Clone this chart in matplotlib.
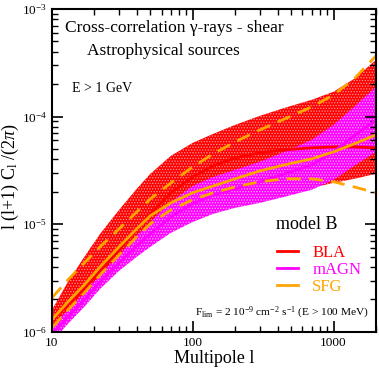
import matplotlib
matplotlib.use('Agg')
import matplotlib.pyplot as plt
from matplotlib.lines import Line2D
from matplotlib.ticker import FixedLocator, FixedFormatter, LogLocator, NullFormatter

plt.rcParams['font.family'] = ['Liberation Serif', 'DejaVu Serif']
plt.rcParams['mathtext.fontset'] = 'custom'
plt.rcParams['mathtext.rm'] = 'Liberation Serif'
plt.rcParams['mathtext.it'] = 'Liberation Serif:italic'
plt.rcParams['hatch.linewidth'] = 0.6

# multipoles
ell = [10, 13, 17, 22, 30, 40, 50, 70, 100, 140, 200, 300, 450, 700, 1000, 1400, 2000]

# BLA band (model B)
bla_hi = [1.60e-6, 2.92e-6, 4.98e-6, 8.15e-6, 1.36e-5, 2.13e-5, 2.94e-5, 4.32e-5, 5.70e-5,
          6.91e-5, 8.37e-5, 1.015e-4, 1.205e-4, 1.43e-4, 1.70e-4, 2.24e-4, 3.36e-4]
bla_lo = [9.01e-7, 1.27e-6, 1.79e-6, 2.57e-6, 3.86e-6, 5.31e-6, 6.58e-6, 8.68e-6, 1.10e-5,
          1.30e-5, 1.48e-5, 1.69e-5, 1.92e-5, 2.18e-5, 2.42e-5, 2.64e-5, 2.94e-5]
bla_mid = [1.30e-6, 1.79e-6, 2.51e-6, 3.69e-6, 5.78e-6, 9.06e-6, 1.25e-5, 1.96e-5, 2.75e-5,
           3.49e-5, 4.13e-5, 4.60e-5, 4.91e-5, 5.12e-5, 5.23e-5, 5.23e-5, 5.12e-5]

# mAGN band
magn_hi = [1.12e-6, 1.60e-6, 2.31e-6, 3.39e-6, 5.20e-6, 7.80e-6, 1.05e-5, 1.61e-5, 2.27e-5,
           2.75e-5, 3.20e-5, 3.80e-5, 4.70e-5, 6.08e-5, 8.37e-5, 1.23e-4, 1.89e-4]
magn_lo = [8.09e-7, 1.19e-6, 1.71e-6, 2.51e-6, 3.69e-6, 4.98e-6, 6.17e-6, 8.32e-6, 1.05e-5,
           1.25e-5, 1.42e-5, 1.58e-5, 1.80e-5, 2.09e-5, 2.58e-5, 3.49e-5, 4.70e-5]
magn_mid = [9.60e-7, 1.38e-6, 1.99e-6, 2.92e-6, 4.38e-6, 6.30e-6, 8.15e-6, 1.17e-5, 1.55e-5,
            1.87e-5, 2.13e-5, 2.48e-5, 2.94e-5, 3.56e-5, 4.70e-5, 6.62e-5, 9.32e-5]

# SFG curves
sfg_mid = [1.30e-6, 1.90e-6, 2.74e-6, 4.02e-6, 6.17e-6, 9.06e-6, 1.20e-5, 1.58e-5, 1.96e-5,
           2.27e-5, 2.64e-5, 3.13e-5, 3.56e-5, 4.05e-5, 4.70e-5, 5.58e-5, 6.76e-5]
sfg_hi = [2.07e-6, 3.05e-6, 4.38e-6, 6.17e-6, 9.06e-6, 1.30e-5, 1.72e-5, 2.42e-5, 3.41e-5,
          4.51e-5, 5.82e-5, 7.52e-5, 9.52e-5, 1.23e-4, 1.59e-4, 2.24e-4, 3.66e-4]
sfg_lo = [1.09e-6, 1.60e-6, 2.31e-6, 3.39e-6, 5.20e-6, 7.64e-6, 1.01e-5, 1.36e-5, 1.69e-5,
          1.96e-5, 2.22e-5, 2.48e-5, 2.64e-5, 2.64e-5, 2.48e-5, 2.22e-5, 1.96e-5]

RED = '#ff0000'
MAG = '#ff00ff'
ORA = '#ffa500'

fig = plt.figure(figsize=(3.79, 3.70), dpi=100)
ax = fig.add_axes([0.137, 0.103, 0.855, 0.873])

ax.fill_between(ell, bla_lo, bla_hi, facecolor=RED, edgecolor='#ff9a9a', hatch='......', linewidth=0)
ax.fill_between(ell, magn_lo, magn_hi, facecolor=MAG, edgecolor='#ffb0ff', hatch='......', linewidth=0)

ax.plot(ell, bla_mid, color=RED, lw=2)
ax.plot(ell, magn_mid, color=MAG, lw=2)
ax.plot(ell, sfg_mid, color=ORA, lw=2)
ax.plot(ell, sfg_hi, color=ORA, lw=2, ls=(0, (5, 3)))
ax.plot(ell, sfg_lo, color=ORA, lw=2, ls=(0, (5, 3)))

ax.set_xscale('log')
ax.set_yscale('log')
ax.set_xlim(10, 2000)
ax.set_ylim(1e-6, 1e-3)

ax.xaxis.set_major_locator(FixedLocator([10, 100, 1000]))
ax.xaxis.set_major_formatter(FixedFormatter(['10', '100', '1000']))
ax.xaxis.set_minor_locator(LogLocator(base=10, subs=range(2, 10)))
ax.xaxis.set_minor_formatter(NullFormatter())
ax.yaxis.set_minor_locator(LogLocator(base=10, subs=range(2, 10)))
ax.yaxis.set_minor_formatter(NullFormatter())

ax.tick_params(which='both', direction='in', top=True, right=True, labelsize=9.5)
ax.tick_params(which='major', length=8, width=1.2)
ax.tick_params(which='minor', length=4, width=1)
for s in ax.spines.values():
    s.set_linewidth(1.5)

ax.set_xlabel('Multipole l', fontsize=13, labelpad=1)
ax.set_ylabel(r'l (l+1) C$_{\rm l}$ /(2$\pi$)', fontsize=13)
ax.yaxis.set_label_coords(-0.095, 0.48)

ax.text(0.04, 0.94, 'Cross-correlation \u03b3-rays - shear', transform=ax.transAxes,
        fontsize=12.5, va='center', ha='left')
ax.text(0.108, 0.87, 'Astrophysical sources', transform=ax.transAxes,
        fontsize=12.5, va='center', ha='left')
ax.text(0.062, 0.753, 'E > 1 GeV', transform=ax.transAxes, fontsize=10, va='center', ha='left')
ax.text(0.44, 0.06, r'F$_{\rm lim}$ = 2 10$^{-9}$ cm$^{-2}$ s$^{-1}$ (E > 100 MeV)',
        transform=ax.transAxes, fontsize=8.2, va='center', ha='left')

ax.text(0.691, 0.331, 'model B', transform=ax.transAxes, fontsize=13, va='center', ha='left')
handles = [Line2D([], [], color=RED, lw=2), Line2D([], [], color=MAG, lw=2),
           Line2D([], [], color=ORA, lw=2)]
ax.legend(handles, ['BLA', 'mAGN', 'SFG'], frameon=False,
          loc='center left', bbox_to_anchor=(0.694, 0.192), fontsize=12,
          labelcolor=[RED, MAG, ORA], handlelength=1.27, handletextpad=0.85,
          labelspacing=0.05, borderpad=0, borderaxespad=0)

fig.savefig('out.png', dpi=100)
